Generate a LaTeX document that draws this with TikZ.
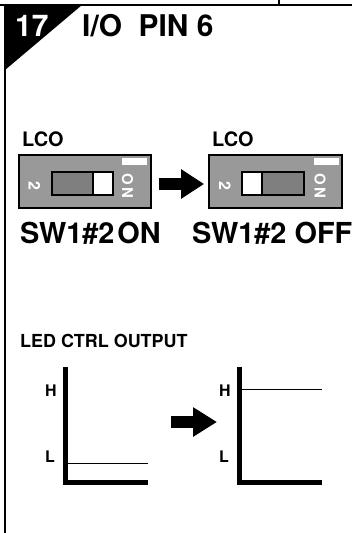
\documentclass[tikz,border=0pt]{standalone}
\usepackage{fontspec}
\setmainfont{TeX Gyre Heros}
\usetikzlibrary{arrows.meta}
\definecolor{swgray}{HTML}{999999}
\definecolor{slgray}{HTML}{7F7F7F}
\tikzset{swbox/.style={draw,fill=swgray,line width=1.8bp,inner sep=0pt,minimum height=53bp},
  swslide/.style={draw,fill=slgray,line width=2bp,minimum width=61bp,minimum height=23bp,inner sep=0pt},
  swknob/.style={draw,fill=white,line width=2bp,minimum width=20bp,minimum height=23bp,inner sep=0pt},
  swlabel/.style={text=white,font=\bfseries\fontsize{15}{15}\selectfont,rotate=-90,inner sep=0pt},
  fatarrow/.style={-{Triangle[length=23bp,width=28bp]},line width=12bp},
  axis/.style={line width=5bp,line join=miter},
  level/.style={line width=1bp},
  caption/.style={font=\bfseries\fontsize{18}{18}\selectfont,anchor=base west,inner sep=0pt}}
\begin{document}
\begin{tikzpicture}[x=1bp,y=-1bp]
  \path[use as bounding box] (0,0) rectangle (352,533);
  % frame and title
  \draw[line width=2bp] (0,5)--(352,5) (279,0)--(279,5) (5,5)--(5,533);
  \fill (5,5)--(82,5)--(5,70)--cycle;
  \node[caption,text=white,font=\bfseries\fontsize{30}{30}\selectfont] (num) at (15,37) {17};
  \node[caption,font=\bfseries\fontsize{30}{30}\selectfont] (title) at (82,37) {I/O\ \ PIN 6};
  % dip switches
  \node[caption,font=\bfseries\fontsize{20}{20}\selectfont] (lco1) at (22,147) {LCO};
  \node[caption,font=\bfseries\fontsize{20}{20}\selectfont] (lco2) at (212,147) {LCO};
  \node[swbox,minimum width=132bp] (sw1) at (85,181.5) {};
  \node[swbox,minimum width=133bp] (sw2) at (275.5,181.5) {};
  \foreach \s/\c/\k/\n/\o/\b in {1/82.5/103/34.5/127.5/122,2/273.5/252/225/320/314}{
    \node[swslide] (slide\s) at (\c,183.5) {};
    \node[swknob] (knob\s) at (\k,183.5) {};
    \node[swlabel,font=\bfseries\fontsize{16}{16}\selectfont] (two\s) at (\n,185.5) {2};
    \node[swlabel] (on\s) at (\o,186) {O\hspace{3bp}N};
    \fill[white] (\b,158.5) rectangle ++(25,6.5);
  }
  \draw[fatarrow,shorten <=7bp,shorten >=4bp] ([yshift=-2.5bp]sw1.east)--([yshift=-2.5bp]sw2.west);
  \node[caption,font=\bfseries\fontsize{29}{29}\selectfont] (st1) at (20,243) {SW1\#2\hspace{3bp}ON};
  \node[caption,font=\bfseries\fontsize{29}{29}\selectfont] (st2) at (192,243) {SW1\#2 OFF};
  % led output
  \node[caption] (led) at (20,347) {LED CTRL OUTPUT};
  \foreach \g/\x/\y in {1/65/463,2/239/389}{
    \draw[axis] (\x,367)--(\x,482)--++(83,0);
    \draw[level] (\x,\y)--++(83,0);
    \node[caption,font=\bfseries\fontsize{16}{16}\selectfont] (hi\g) at (\x-20,396) {H};
    \node[caption,font=\bfseries\fontsize{16}{16}\selectfont] (lo\g) at (\x-20,462) {L};
  }
  \coordinate (from) at (171,422);
  \coordinate (to) at (217,422);
  \draw[fatarrow,-{Triangle[length=24bp,width=28bp]}] (from)--(to);
\end{tikzpicture}
\end{document}
